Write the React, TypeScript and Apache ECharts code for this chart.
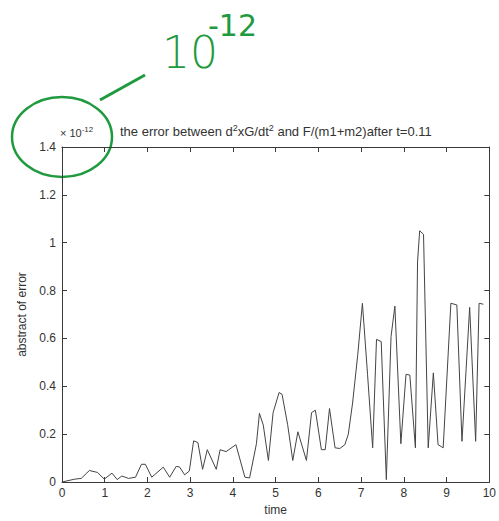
import React, { useEffect, useRef } from "react";
import * as echarts from "echarts";

const timeValues = [0, 0.3, 0.45, 0.64, 0.83, 0.99, 1.17, 1.29, 1.4, 1.56, 1.72, 1.86, 1.95, 2.1, 2.37, 2.52, 2.67, 2.75, 2.87, 2.98, 3.08, 3.18, 3.29, 3.4, 3.61, 3.7, 3.84, 4.07, 4.28, 4.39, 4.55, 4.62, 4.71, 4.83, 4.94, 5.08, 5.15, 5.28, 5.4, 5.52, 5.72, 5.84, 5.93, 6.07, 6.16, 6.26, 6.39, 6.5, 6.62, 6.7, 6.8, 6.92, 7.03, 7.15, 7.27, 7.36, 7.47, 7.59, 7.7, 7.79, 7.93, 8.05, 8.14, 8.27, 8.32, 8.37, 8.46, 8.57, 8.69, 8.8, 8.92, 9.1, 9.24, 9.36, 9.54, 9.68, 9.76, 9.86];
const errorValues = [0, 0.012, 0.015, 0.048, 0.04, 0.012, 0.037, 0.01, 0.025, 0.015, 0.02, 0.074, 0.074, 0.02, 0.062, 0.02, 0.065, 0.063, 0.03, 0.046, 0.172, 0.165, 0.053, 0.135, 0.053, 0.135, 0.127, 0.156, 0.02, 0.017, 0.16, 0.287, 0.238, 0.09, 0.29, 0.374, 0.366, 0.24, 0.09, 0.21, 0.09, 0.29, 0.3, 0.135, 0.135, 0.307, 0.143, 0.14, 0.156, 0.2, 0.33, 0.53, 0.747, 0.45, 0.143, 0.596, 0.587, 0.01, 0.608, 0.735, 0.16, 0.45, 0.447, 0.143, 0.92, 1.05, 1.035, 0.143, 0.456, 0.156, 0.143, 0.747, 0.74, 0.17, 0.73, 0.17, 0.747, 0.743];

const titleText = "the error between d{s|2}xG/dt{s|2} and F/(m1+m2)after t=0.11";
const xLabel = "time";
const yLabel = "abstract of error";

export default function App() {
  const ref = useRef<HTMLDivElement>(null);
  useEffect(() => {
    if (!ref.current) return;
    const chart = echarts.init(ref.current, null, { renderer: "svg" });
    const font = "Liberation Sans";
    const axisColor = "#3a3a3a";
    const green = "#1f9a3e";
    const data = timeValues.map((t, i) => [t, errorValues[i]]);
    const tick = { show: true, inside: true, length: 5, lineStyle: { color: axisColor } };
    const line = { show: true, onZero: false, lineStyle: { color: axisColor, width: 1 } };
    chart.setOption({
      animation: false,
      backgroundColor: "#ffffff",
      grid: { left: 62, right: 1, top: 147, bottom: 33, containLabel: false },
      xAxis: [
        {
          type: "value",
          min: 0,
          max: 10,
          interval: 1,
          name: xLabel,
          nameLocation: "middle",
          nameGap: 22,
          nameTextStyle: { fontFamily: font, fontSize: 12, color: "#333" },
          axisLabel: { fontFamily: font, fontSize: 12, color: "#333", margin: 5, alignMaxLabel: "center", hideOverlap: false },
          splitLine: { show: false },
          axisLine: line,
          axisTick: tick,
        },
        {
          type: "value",
          min: 0,
          max: 10,
          interval: 1,
          position: "top",
          axisLabel: { show: false },
          splitLine: { show: false },
          axisLine: line,
          axisTick: tick,
        },
      ],
      yAxis: [
        {
          type: "value",
          min: 0,
          max: 1.4,
          interval: 0.2,
          name: yLabel,
          nameLocation: "middle",
          nameGap: 33,
          nameTextStyle: { fontFamily: font, fontSize: 12, color: "#333" },
          axisLabel: { fontFamily: font, fontSize: 12, color: "#333", margin: 6 },
          splitLine: { show: false },
          axisLine: line,
          axisTick: tick,
        },
        {
          type: "value",
          min: 0,
          max: 1.4,
          interval: 0.2,
          position: "right",
          axisLabel: { show: false },
          splitLine: { show: false },
          axisLine: line,
          axisTick: tick,
        },
      ],
      series: [
        {
          type: "line",
          data,
          showSymbol: false,
          symbol: "none",
          lineStyle: { color: "#444", width: 1 },
        },
        {
          type: "line",
          xAxisIndex: 1,
          yAxisIndex: 1,
          data: [],
          showSymbol: false,
          symbol: "none",
          silent: true,
        },
      ],
      graphic: [
        {
          type: "text",
          left: 120,
          top: 123,
          style: {
            text: titleText,
            fontFamily: font,
            fontSize: 13,
            fill: "#333",
            rich: {
              s: { fontSize: 9, padding: [0, 0, 7, 0], fontFamily: font, fill: "#333" },
            },
          },
        },
        {
          type: "text",
          left: 60,
          top: 125,
          style: {
            text: "× 10{s|-12}",
            fontFamily: font,
            fontSize: 11,
            fill: "#333",
            rich: {
              s: { fontSize: 8, padding: [0, 0, 7, 0], fontFamily: font, fill: "#333" },
            },
          },
        },
        {
          type: "ellipse",
          shape: { cx: 62, cy: 137, rx: 50, ry: 40 },
          style: { fill: "none", stroke: green, lineWidth: 2.5 },
        },
        {
          type: "line",
          shape: { x1: 100, y1: 100, x2: 145, y2: 75 },
          style: { stroke: green, lineWidth: 3 },
        },
        {
          type: "text",
          left: 162,
          top: 30,
          style: {
            text: "10",
            fontFamily: "DejaVu Sans",
            fontSize: 44,
            fontWeight: 300,
            fill: green,
          },
        },
        {
          type: "text",
          left: 208,
          top: 10,
          style: {
            text: "-12",
            fontFamily: "DejaVu Sans",
            fontSize: 30,
            fill: green,
          },
        },
      ],
    });
    return () => chart.dispose();
  }, []);
  return (
    <div
      ref={ref}
      style={{ position: "absolute", left: 0, top: 0, width: 499, height: 521 }}
    />
  );
}
